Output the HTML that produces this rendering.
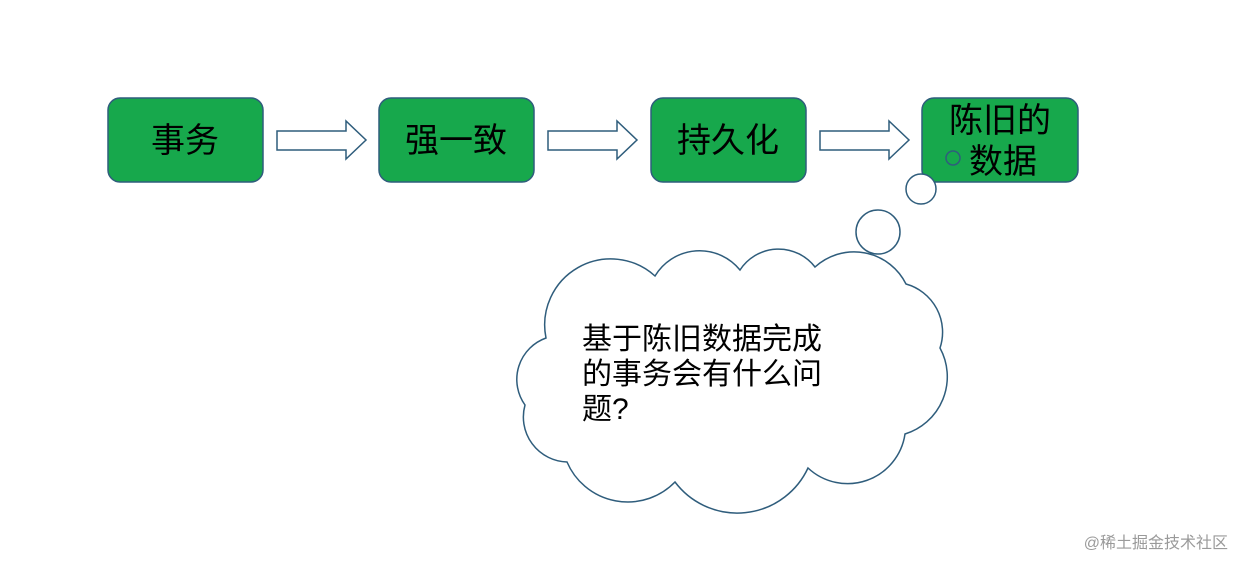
<!DOCTYPE html>
<html><head><meta charset="utf-8"><style>
html,body{margin:0;padding:0;background:#fff;}
svg{display:block;}
text{font-family:"Liberation Sans","Noto Sans CJK SC",sans-serif;}
</style></head><body>
<svg width="1244" height="569" viewBox="0 0 1244 569" xmlns="http://www.w3.org/2000/svg">
<g fill="#17a84c" stroke="#2f5d7c" stroke-width="1.5">
<rect x="108" y="98" width="155" height="84" rx="12"/>
<rect x="379" y="98" width="155" height="84" rx="12"/>
<rect x="651" y="98" width="155" height="84" rx="12"/>
<rect x="922" y="98" width="156" height="84" rx="12"/>
</g>
<g fill="#fff" stroke="#2f5d7c" stroke-width="1.5">
<path d="M277 131 H346 V121 L366 140 L346 159 V150 H277 Z"/>
<path d="M548 131 H617 V121 L637 140 L617 159 V150 H548 Z"/>
<path d="M820 131 H889 V121 L909 140 L889 159 V150 H820 Z"/>
</g>
<g font-size="34" fill="#000" text-anchor="middle">
<text x="185" y="152">事务</text>
<text x="456" y="152">强一致</text>
<text x="728" y="152">持久化</text>
<text x="1000" y="132">陈旧的</text>
<text x="1003" y="173">数据</text>
</g>
<circle cx="953" cy="158" r="7" fill="none" stroke="#2f5d7c" stroke-width="1.5"/>
<g fill="#fff" stroke="#2f5d7c" stroke-width="1.5">
<circle cx="921" cy="189" r="15"/>
<circle cx="878" cy="232" r="22"/>
<path d="M546 338 A66 66 0 0 1 655 276 A52 52 0 0 1 740 270 A46 46 0 0 1 815 267 A58 58 0 0 1 906 284 A50 50 0 0 1 940 348 A60 60 0 0 1 905 434 A58 58 0 0 1 808 468 A78 78 0 0 1 675 482 A66 66 0 0 1 567 462 A45 45 0 0 1 525 405 A44 44 0 0 1 546 338 Z"/>
</g>
<g font-size="30" fill="#000">
<text x="582" y="349">基于陈旧数据完成</text>
<text x="582" y="384">的事务会有什么问</text>
<text x="582" y="419">题?</text>
</g>
<text x="1228" y="548" font-size="16" fill="#9a9a9a" text-anchor="end">@稀土掘金技术社区</text>
</svg>
</body></html>
